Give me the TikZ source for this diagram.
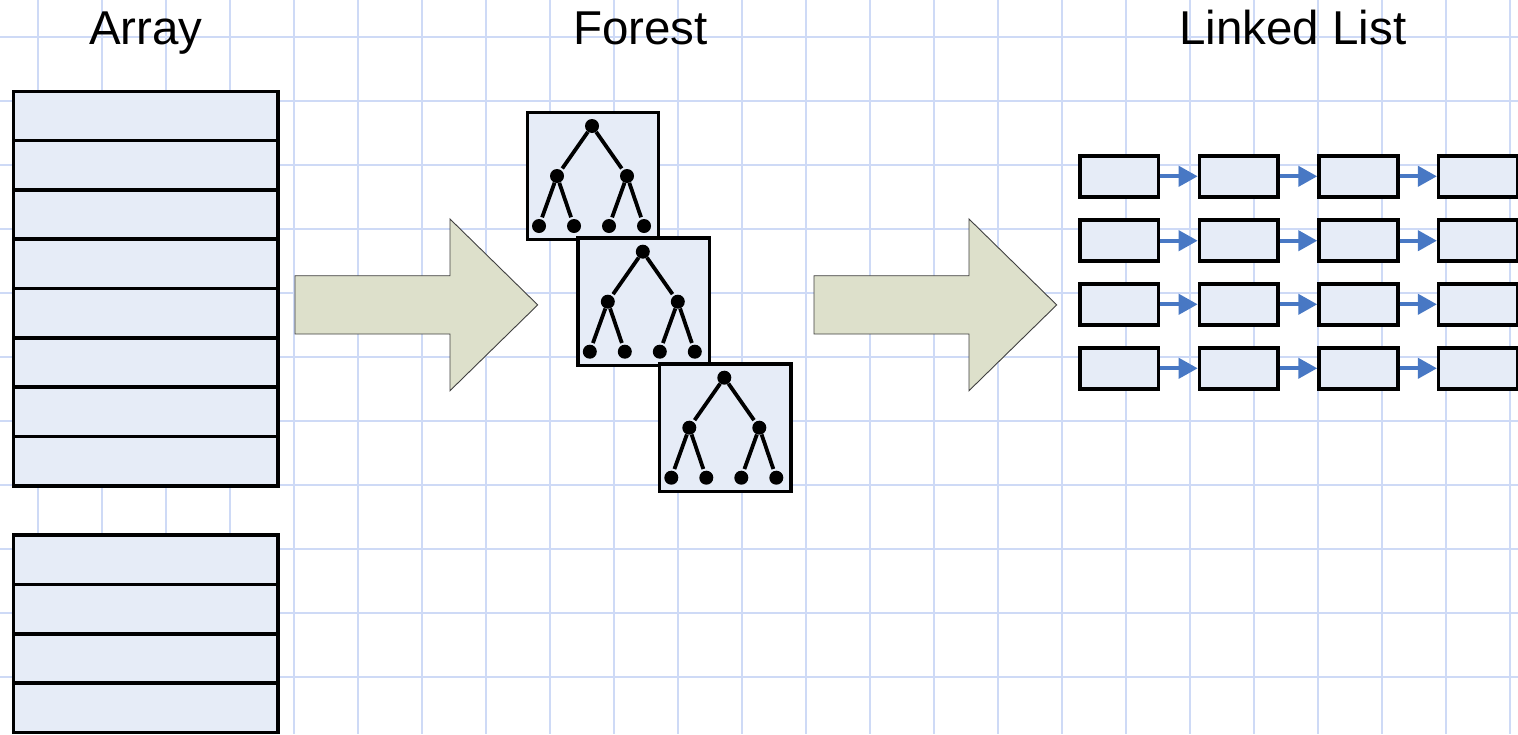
\documentclass[tikz,border=0pt]{standalone}
\usepackage{fontspec}
\setmainfont{Liberation Sans}
\usetikzlibrary{arrows.meta}
\definecolor{gridc}{RGB}{206,218,246}
\definecolor{cellc}{RGB}{230,236,247}
\definecolor{blockc}{RGB}{221,224,203}
\definecolor{linkc}{RGB}{72,120,196}
\newcommand\foresttree[2]{%
  \begin{scope}[shift={(#2)}]
    \node[dot] (#1r) at (-1,-50) {};
    \node[dot] (#1a) at (-36,0) {};
    \node[dot] (#1b) at (34,0) {};
    \node[dot] (#1c) at (-54,50) {};
    \node[dot] (#1d) at (-19,50) {};
    \node[dot] (#1e) at (16,50) {};
    \node[dot] (#1f) at (51,50) {};
    \draw[treeedge] (#1r) -- (#1a);
    \draw[treeedge] (#1r) -- (#1b);
    \draw[treeedge] (#1a) -- (#1c);
    \draw[treeedge] (#1a) -- (#1d);
    \draw[treeedge] (#1b) -- (#1e);
    \draw[treeedge] (#1b) -- (#1f);
  \end{scope}}
\newcommand\blockarrowshape[1]{%
  \draw[blockarrow, shift={(#1,0)}] (295,275.7) -- (450,275.7) -- (450,219) -- (537.7,304.9)
    -- (450,390.7) -- (450,334) -- (295,334) -- cycle;}
\begin{document}
\begin{tikzpicture}[x=1pt,y=-1pt,
  gridline/.style={draw=gridc, line width=2.2pt},
  title/.style={font=\fontsize{47.5}{57}\selectfont, anchor=base, inner sep=0pt},
  cell/.style={draw=black, line width=3.5pt, fill=cellc, minimum width=264.7pt, minimum height=49.4pt, inner sep=0pt, outer sep=0pt},
  fbox/.style={draw=black, line width=3.5pt, fill=cellc, minimum width=131.4pt, minimum height=127.4pt, inner sep=0pt},
  dot/.style={circle, fill=black, minimum size=14pt, inner sep=0pt},
  treeedge/.style={line width=3.8pt, shorten >=2pt},
  blockarrow/.style={fill=blockc, draw=black!75, line width=0.9pt, line join=miter},
  lbox/.style={draw=black, line width=3.5pt, fill=cellc, minimum width=78.7pt, minimum height=41pt, inner sep=0pt},
  link/.style={draw=linkc, line width=4pt, -{Triangle[length=19pt,width=20pt]}, fill=linkc}]
\useasboundingbox (0,0) rectangle (1518,734);
\fill[white] (0,0) rectangle (1518,734);
% grid
\foreach \i in {0,...,23} {\draw[gridline] (38+64*\i,0) -- (38+64*\i,734);}
\foreach \j in {0,...,10} {\draw[gridline] (0,36.7+64*\j) -- (1518,36.7+64*\j);}
% titles
\node[title] (tarr) at (145.8,44) {Array};
\node[title] (tfor) at (640.5,44) {Forest};
\node[title] (tll) at (1293,44) {Linked List};
% array
\foreach \k in {1,...,8} {\node[cell] (a\k) at (145.7,91.3+49.3*\k-24.65) {};}
\foreach \k in {1,...,4} {\node[cell] (b\k) at (145.7,535+49.4*\k-24.7) {};}
% block arrows
\blockarrowshape{0}
\blockarrowshape{519}
% forest
\node[fbox] (f1) at (593,176) {};
\foresttree{t1}{f1.center}
\node[fbox] (f2) at (643.8,301.7) {};
\foresttree{t2}{f2.center}
\node[fbox] (f3) at (725.3,427.7) {};
\foresttree{t3}{f3.center}
% linked list
\foreach \r/\y in {1/176.3,2/240.7,3/304.3,4/368.3} {
  \foreach \c/\x in {1/1119.2,2/1238.8,3/1358.4,4/1478} {\node[lbox] (l\r\c) at (\x,\y) {};}
  \foreach \c/\d in {1/2,2/3,3/4} {\draw[link] (l\r\c.east) -- (l\r\d.west);}
}
\end{tikzpicture}
\end{document}
